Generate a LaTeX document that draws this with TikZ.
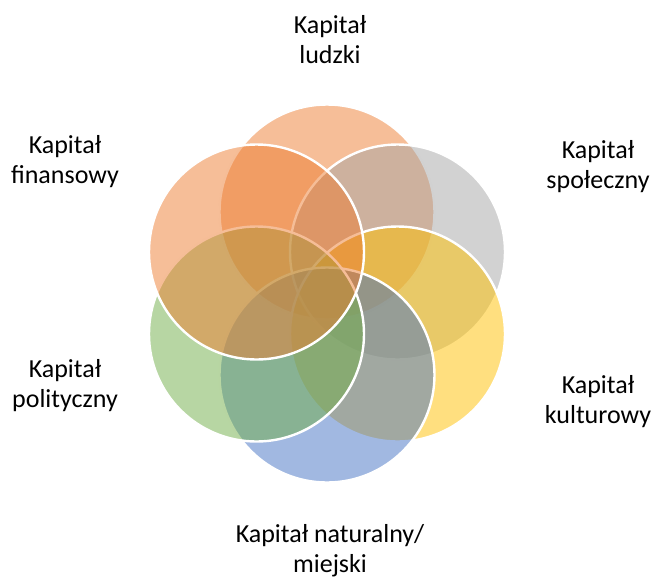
\documentclass[tikz,border=0pt]{standalone}
\usepackage{fontspec}
\setmainfont{Carlito}
\definecolor{cOrange}{HTML}{ED7D31}
\definecolor{cGray}{HTML}{A5A5A5}
\definecolor{cGold}{HTML}{FFC000}
\definecolor{cBlue}{HTML}{4472C4}
\definecolor{cGreen}{HTML}{70AD47}
\begin{document}
\begin{tikzpicture}[x=0.75pt,y=-0.75pt,
  ring/.style={circle, minimum size=161.25pt, inner sep=0pt, draw=white, line width=1.8pt, fill opacity=0.5, draw opacity=1},
  lab/.style={align=center, font=\fontsize{19.5}{22.5}\selectfont, text=black, inner sep=0pt, anchor=base}]
\useasboundingbox (0,0) rectangle (653,576);
\node[ring, fill=cOrange] (c1) at (327,212) {};
\node[ring, fill=cGray] (c2) at (397.5,252) {};
\node[ring, fill=cGold] (c3) at (397.5,334) {};
\node[ring, fill=cBlue] (c4) at (327,375) {};
\node[ring, fill=cGreen] (c5) at (256.5,334) {};
\node[ring, fill=cOrange] (c6) at (256.5,252) {};
\node[lab] (l1) at (330,63) {Kapitał\\ludzki};
\node[lab] (l2) at (65,183) {Kapitał\\finansowy};
\node[lab] (l3) at (598,188) {Kapitał\\społeczny};
\node[lab] (l4) at (65,407) {Kapitał\\polityczny};
\node[lab] (l5) at (598,423) {Kapitał\\kulturowy};
\node[lab] (l6) at (330,572) {Kapitał naturalny/\\miejski};
\end{tikzpicture}
\end{document}
